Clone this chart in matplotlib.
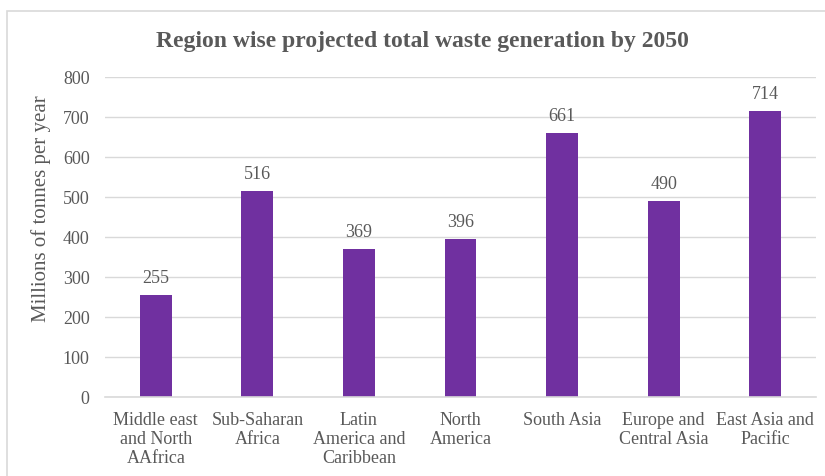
import matplotlib
matplotlib.use("Agg")
import matplotlib.pyplot as plt
from matplotlib.patches import Rectangle

regions = [
    "Middle east\nand North\nAAfrica",
    "Sub-Saharan\nAfrica",
    "Latin\nAmerica and\nCaribbean",
    "North\nAmerica",
    "South Asia",
    "Europe and\nCentral Asia",
    "East Asia and\nPacific",
]
waste_2050 = [255, 516, 369, 396, 661, 490, 714]
y_ticks = [0, 100, 200, 300, 400, 500, 600, 700, 800]

TEXT = "#595959"
BAR = "#7030A0"
GRID = "#D9D9D9"

plt.rcParams["font.family"] = ["Liberation Serif", "DejaVu Serif"]

fig = plt.figure(figsize=(8.25, 4.76), dpi=100)
ax = fig.add_axes([105 / 825, 1 - 397 / 476, (816 - 105) / 825, (397 - 77) / 476])

x = list(range(len(regions)))
bars = ax.bar(x, waste_2050, width=0.315, color=BAR, zorder=3)

for xi, v in zip(x, waste_2050):
    ax.text(xi, v + 20, f"{v}", ha="center", va="bottom", fontsize=13, color=TEXT)

ax.set_xlim(-0.5, len(regions) - 0.5)
ax.set_ylim(0, 800)
ax.set_yticks(y_ticks)
ax.set_yticklabels([str(t) for t in y_ticks])
ax.set_xticks(x)
ax.set_xticklabels(regions, linespacing=1.15)
ax.tick_params(axis="both", length=0, labelsize=13, colors=TEXT)
ax.tick_params(axis="y", pad=11)
ax.tick_params(axis="x", pad=11)

ax.grid(axis="y", color=GRID, linewidth=1, zorder=0)
for side in ("top", "right", "left"):
    ax.spines[side].set_visible(False)
ax.spines["bottom"].set_color(GRID)
ax.spines["bottom"].set_linewidth(1.2)
ax.spines["bottom"].set_zorder(4)

fig.text(422 / 825, 1 - 42 / 476, "Region wise projected total waste generation by 2050",
         ha="center", va="center", fontsize=17, fontweight="bold", color=TEXT)
fig.text(41 / 825, 1 - 209 / 476, "Millions of tonnes per year", rotation=90,
         ha="center", va="center", fontsize=15, color=TEXT)

# chart-area frame
fig.add_artist(Rectangle((7 / 825, -0.1), 1.2, 1 - 10.5 / 476 + 0.1,
                         transform=fig.transFigure, fill=False,
                         edgecolor="#D9D9D9", linewidth=1.2))

fig.savefig("out.png", dpi=100)
